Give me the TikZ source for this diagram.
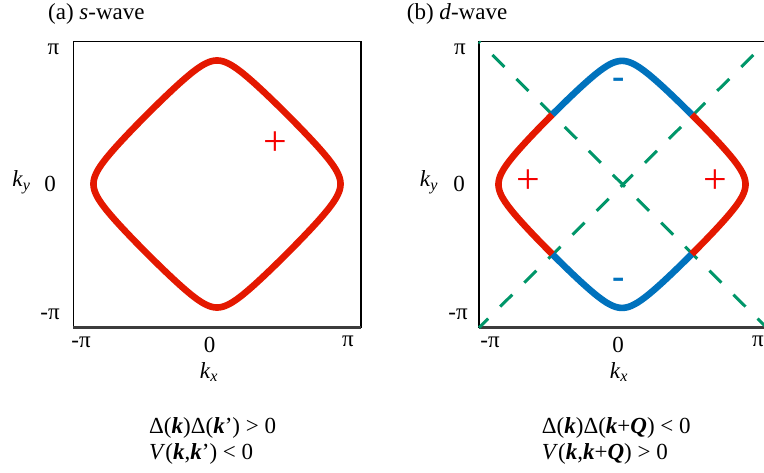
\documentclass[tikz,border=0pt]{standalone}
\usepackage{fontspec}
\setmainfont{Liberation Serif}
\definecolor{fsred}{RGB}{228,24,0}
\definecolor{fsblue}{RGB}{0,114,189}
\definecolor{nodegreen}{RGB}{0,150,105}
\definecolor{signred}{RGB}{245,0,0}
\definecolor{axisgray}{RGB}{60,60,60}
\tikzset{
  lbl/.style={inner sep=0pt, font=\fontsize{23}{27}\selectfont},
  bzbox/.style={draw=black, line width=1.3pt, inner sep=0pt, outer sep=0pt,
    minimum width=287.7pt, minimum height=286pt},
  bottomedge/.style={draw=axisgray, line width=2.6pt},
  fsline/.style={line width=6.6pt},
  dline/.style={draw=nodegreen, line width=3pt, dash pattern=on 17pt off 17pt, dash phase=15.2pt},
  plussign/.style={inner sep=0pt, text=signred, font=\fontsize{42}{42}\selectfont},
  minussign/.style={inner sep=0pt, text=fsblue, font=\bfseries\fontsize{37}{37}\selectfont},
}
\def\cc{0.0981}
\def\KK{87.19}
\begin{document}
\begin{tikzpicture}[x=1pt,y=-1pt]
\useasboundingbox (0,0) rectangle (764,473);
\clip (0,0) rectangle (764,473);

% titles
\node[lbl, anchor=base west] (titleA) at (48,20) {(a) \textit{s}-wave};
\node[lbl, anchor=base west] (titleB) at (406.7,20) {(b) \textit{d}-wave};

% boxes
\node[bzbox] (boxA) at (217.15,184.7) {};
\node[bzbox] (boxB) at (622.85,184.7) {};
\draw[bottomedge] (boxA.south west) -- (boxA.south east);
\draw[bottomedge] (boxB.south west) -- (boxB.south east);

% (a) Fermi surface, all red
\draw[fsline, fsred, line join=round]
  plot[domain=-\KK:\KK, samples=60, variable=\t] ({217+0.8*\t},{184-0.8*acos(\cc-cos(\t))})
  -- plot[domain=-\KK:\KK, samples=60, variable=\t] ({217+0.8*acos(\cc-cos(\t))},{184+0.8*\t})
  -- plot[domain=-\KK:\KK, samples=60, variable=\t] ({217-0.8*\t},{184+0.8*acos(\cc-cos(\t))})
  -- plot[domain=-\KK:\KK, samples=60, variable=\t] ({217-0.8*acos(\cc-cos(\t))},{184-0.8*\t})
  -- cycle;
\node[plussign] (plusA) at (275,144) {+};

% (b) nodal lines
\draw[dline] (boxB.north west) -- (boxB.south east);
\draw[dline] (boxB.north east) -- (boxB.south west);

% (b) Fermi surface
\draw[fsline, fsblue] plot[domain=-\KK:\KK, samples=60, variable=\t] ({622+0.8*\t},{184.4-0.8*acos(\cc-cos(\t))});
\draw[fsline, fsblue] plot[domain=-\KK:\KK, samples=60, variable=\t] ({622-0.8*\t},{184.4+0.8*acos(\cc-cos(\t))});
\draw[fsline, fsred] plot[domain=-\KK:\KK, samples=60, variable=\t] ({622+0.8*acos(\cc-cos(\t))},{184.4+0.8*\t});
\draw[fsline, fsred] plot[domain=-\KK:\KK, samples=60, variable=\t] ({622-0.8*acos(\cc-cos(\t))},{184.4-0.8*\t});
\node[plussign] (plusBl) at (528.3,181.7) {+};
\node[plussign] (plusBr) at (715,181.7) {+};
\node[minussign] (minusBt) at (619,83.7) {-};
\node[minussign] (minusBb) at (619,283.7) {-};

% axis labels (a)
\node[lbl] (piA) at (53.5,49) {π};
\node[lbl] (zeroAy) at (50,183.5) {0};
\node[lbl, anchor=base] (kyA) at (21.5,187) {\textit{k}\textsubscript{\textit{y}}};
\node[lbl] (mpiA) at (50,314) {-π};
\node[lbl] (mpiAx) at (81,342) {-π};
\node[lbl] (zeroAx) at (209.5,344.5) {0};
\node[lbl] (piAx) at (348,341) {π};
\node[lbl, anchor=base] (kxA) at (209,378) {\textit{k}\textsubscript{\textit{x}}};

% axis labels (b)
\node[lbl] (piB) at (460,49) {π};
\node[lbl] (zeroBy) at (459,183.5) {0};
\node[lbl, anchor=base] (kyB) at (429,187) {\textit{k}\textsubscript{\textit{y}}};
\node[lbl] (mpiB) at (458,314) {-π};
\node[lbl] (mpiBx) at (490,342) {-π};
\node[lbl] (zeroBx) at (618,344.5) {0};
\node[lbl] (piBx) at (758,341) {π};
\node[lbl, anchor=base] (kxB) at (619,378) {\textit{k}\textsubscript{\textit{x}}};

% formulas
\node[lbl, anchor=base west] (fA1) at (149,433) {Δ(\textbf{\textit{k}})Δ(\textbf{\textit{k}}’) > 0};
\node[lbl, anchor=base west] (fA2) at (149,460) {\textit{V}(\textbf{\textit{k}},\textbf{\textit{k}}’) < 0};
\node[lbl, anchor=base west] (fB1) at (541.7,433) {Δ(\textbf{\textit{k}})Δ(\textbf{\textit{k}}+\textbf{\textit{Q}}) < 0};
\node[lbl, anchor=base west] (fB2) at (541.7,460) {\textit{V}(\textbf{\textit{k}},\textbf{\textit{k}}+\textbf{\textit{Q}}) > 0};
\end{tikzpicture}
\end{document}
